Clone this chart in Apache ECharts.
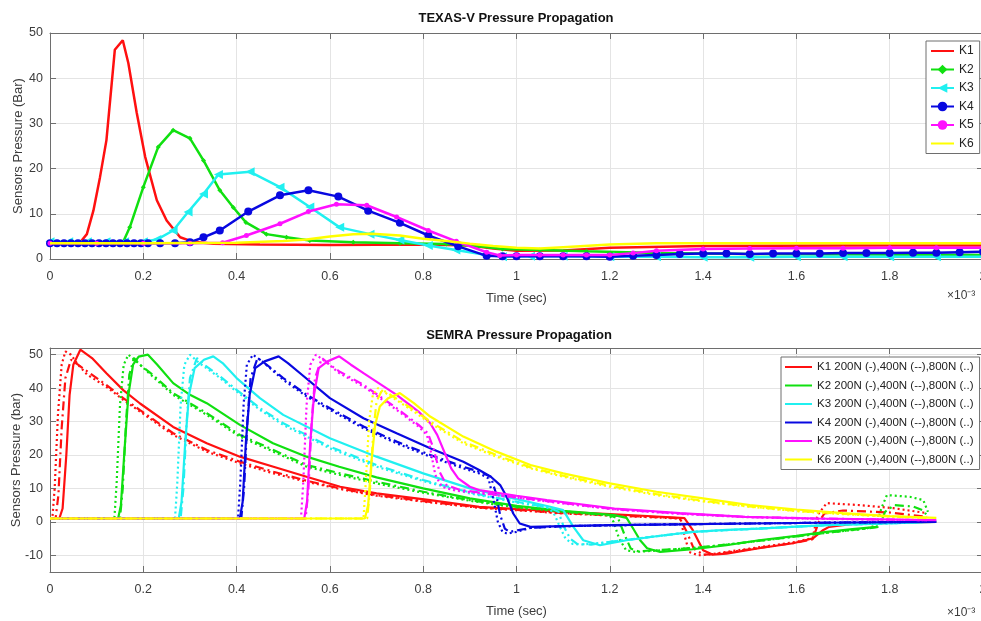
<!DOCTYPE html>
<html>
<head>
<meta charset="utf-8">
<script src="https://cdn.jsdelivr.net/npm/echarts@6/dist/echarts.min.js"></script>
<style>
  html, body { margin: 0; padding: 0; background: #fff; }
  #chart { width: 981px; height: 621px; }
</style>
</head>
<body>
<div id="chart"></div>
<script>
// time in ms (axis shows x10^-3 s), pressure in bar

const SENSORS = ['K1', 'K2', 'K3', 'K4', 'K5', 'K6'];
const SEMRA_NAMES = SENSORS.map(k => k + ' 200N (-),400N (--),800N (..)');

// ---- TEXAS-V ----
const TX_K1 = [[0,3.5],[0.03,3.5],[0.064,3.6],[0.079,5.5],[0.093,10.7],[0.107,18],[0.121,26.3],[0.139,46.3],[0.156,48.4],
  [0.168,43.3],[0.186,32.3],[0.204,22.6],[0.229,13],[0.25,8.5],[0.279,4.8],[0.307,3.8],[0.35,3.4],[0.45,3.2],[0.6,3.1],
  [0.8,3.2],[0.9,3],[0.95,2.3],[1.0,1.8],[1.1,1.9],[1.2,2.5],[1.4,2.9],[1.7,3],[2.0,3]];
const TX_K2 = [[0,3.5],[0.05,3.5],[0.1,3.5],[0.157,3.8],[0.171,7],[0.2,15.9],[0.232,24.8],[0.264,28.5],[0.3,26.7],
  [0.329,21.8],[0.364,15.2],[0.393,11.4],[0.42,8.1],[0.464,5.5],[0.507,4.8],[0.557,4.1],[0.65,3.7],[0.75,3.5],[0.85,3.3],
  [0.92,2.8],[0.97,2.2],[1.05,2],[1.15,1.7],[1.3,1.3],[1.5,1.1],[1.75,1],[2.0,0.9]];
const TX_K3 = [[0,3.8],[0.04,3.8],[0.08,3.8],[0.12,3.8],[0.16,3.8],[0.2,3.8],[0.229,4.3],[0.264,6.3],[0.296,10.4],
  [0.329,14.4],[0.361,18.7],[0.429,19.3],[0.493,15.9],[0.557,11.5],[0.621,7],[0.686,5.5],[0.75,4.2],[0.811,3],[0.87,2],
  [0.93,1],[0.97,0.5],[1.03,0.6],[1.1,0.6],[1.2,0.5],[1.3,0.5],[1.4,0.4],[1.5,0.4],[1.6,0.5],[1.7,0.5],[1.8,0.5],
  [1.9,0.5],[2.0,0.5]];
const TX_K4 = [[0,3.5],[0.015,3.5],[0.03,3.5],[0.045,3.5],[0.06,3.5],[0.075,3.5],[0.09,3.5],[0.105,3.5],[0.12,3.5],
  [0.135,3.5],[0.15,3.5],[0.165,3.5],[0.18,3.5],[0.195,3.5],[0.21,3.5],[0.236,3.5],[0.268,3.5],[0.3,3.7],[0.329,4.8],
  [0.364,6.3],[0.425,10.5],[0.493,14.1],[0.554,15.2],[0.618,13.8],[0.682,10.7],[0.75,8],[0.811,5.2],[0.875,2.8],
  [0.936,0.7],[0.97,0.6],[1.0,0.6],[1.05,0.6],[1.1,0.6],[1.15,0.6],[1.2,0.5],[1.25,0.7],[1.3,0.9],[1.35,1.1],[1.4,1.2],
  [1.45,1.2],[1.5,1.1],[1.55,1.2],[1.6,1.2],[1.65,1.2],[1.7,1.3],[1.75,1.3],[1.8,1.3],[1.85,1.4],[1.9,1.4],[1.95,1.5],
  [2.0,1.6]];
const TX_K5 = [[0,3.5],[0.1,3.5],[0.2,3.5],[0.3,3.5],[0.37,3.6],[0.421,5.2],[0.493,7.8],[0.554,10.5],[0.614,12.1],
  [0.679,11.9],[0.743,9.3],[0.811,6.3],[0.871,3.9],[0.936,1.5],[0.964,0.8],[1.0,0.9],[1.05,0.9],[1.1,0.9],[1.15,0.9],
  [1.2,0.9],[1.25,1.3],[1.3,1.8],[1.4,2.2],[1.5,2.3],[1.6,2.4],[1.7,2.4],[1.8,2.5],[1.9,2.5],[2.0,2.5]];
const TX_K6 = [[0,3.5],[0.2,3.5],[0.4,3.6],[0.5,4],[0.55,4.3],[0.6,5],[0.65,5.5],[0.69,5.6],[0.75,5.2],[0.8,4.5],
  [0.85,4],[0.9,3.4],[0.95,2.9],[1.0,2.5],[1.05,2.3],[1.1,2.6],[1.2,3.2],[1.3,3.5],[1.6,3.5],[2.0,3.5]];

// ---- SEMRA: 200N solid, 400N dash-dot, 800N dotted ----
const SM_K1_200 = [[0,1],[0.02,1],[0.027,4],[0.035,20],[0.042,38],[0.05,47],[0.065,51.5],[0.09,49],[0.1215,44.4],
  [0.157,39.4],[0.193,35.4],[0.264,28.4],[0.336,23.5],[0.407,19.5],[0.479,16.5],[0.55,13.5],[0.622,10.5],[0.7,8.5],
  [0.815,6.5],[0.92,4.5],[1.03,3.6],[1.1,3],[1.2,2.3],[1.3,1.6],[1.36,1.1],[1.378,-2.5],[1.4,-8.5],[1.42,-9.8],
  [1.45,-9.5],[1.52,-7.9],[1.593,-6.4],[1.636,-4.9],[1.657,-2.5],[1.67,-1.5],[1.72,-0.6],[1.8,-0.3],[1.9,0]];
const SM_K1_400 = [[0,1],[0.012,1],[0.018,8],[0.025,28],[0.033,43],[0.045,48.5],[0.06,47],[0.08,45],[0.12,41],
  [0.157,37],[0.193,33.4],[0.264,26.5],[0.336,21.5],[0.407,18],[0.479,15],[0.55,12.3],[0.622,10],[0.7,8],[0.815,6],
  [0.92,4.3],[1.03,3.3],[1.1,2.6],[1.2,2],[1.3,1.4],[1.35,1.1],[1.365,-3],[1.38,-8],[1.4,-9.8],[1.43,-9.6],[1.5,-8.2],
  [1.6,-6.2],[1.635,-5.2],[1.648,0],[1.66,2.5],[1.7,3.4],[1.8,2.8],[1.88,1.5]];
const SM_K1_800 = [[0,1],[0.005,1],[0.01,10],[0.017,32],[0.025,47],[0.033,51],[0.045,50],[0.06,47],[0.08,44],
  [0.12,40.5],[0.157,36.5],[0.193,33],[0.264,26],[0.336,21],[0.407,17.5],[0.479,14.5],[0.55,12],[0.622,9.8],[0.7,7.8],
  [0.815,5.8],[0.92,4.2],[1.03,3.2],[1.1,2.5],[1.2,1.9],[1.3,1.3],[1.35,1],[1.358,-3],[1.37,-9],[1.39,-10],[1.41,-9.8],
  [1.5,-8],[1.6,-6],[1.635,-4.8],[1.645,2],[1.665,5.6],[1.736,5],[1.808,4.1],[1.88,2.6]];

const SM_K2_200 = [[0,1],[0.146,1],[0.152,5],[0.16,22],[0.168,38],[0.178,47],[0.19,49.4],[0.21,50],[0.23,47],
  [0.264,41.5],[0.3,38],[0.336,35.5],[0.407,29],[0.478,23.5],[0.55,19.5],[0.62,16.5],[0.7,13.3],[0.8,10],[0.9,7],
  [1.0,4.8],[1.1,3.3],[1.21,2],[1.236,1.2],[1.25,-2],[1.265,-5.5],[1.28,-7.9],[1.308,-9],[1.378,-8.2],[1.45,-7],
  [1.52,-5.5],[1.6,-4.2],[1.665,-3],[1.72,-2.2],[1.773,-1.5]];
const SM_K2_400 = [[0,1],[0.15,1],[0.156,10],[0.163,30],[0.17,44],[0.18,49],[0.193,47],[0.22,44],[0.264,38.5],
  [0.336,32.5],[0.407,26],[0.479,21.5],[0.55,17],[0.622,14.5],[0.7,12],[0.8,9],[0.9,6.5],[1.0,4.5],[1.1,3.1],[1.2,2],
  [1.218,1],[1.232,-4],[1.245,-8],[1.26,-8.8],[1.3,-8.5],[1.38,-7.8],[1.45,-6.8],[1.55,-5.2],[1.65,-3.5],[1.75,-2],
  [1.778,-1.5],[1.79,3],[1.81,5],[1.85,4.6],[1.87,3.5],[1.88,2]];
const SM_K2_800 = [[0,1],[0.138,1],[0.143,12],[0.15,35],[0.158,47],[0.168,50],[0.185,48],[0.22,43.5],[0.264,38],
  [0.336,32],[0.407,25.5],[0.479,21],[0.55,16.5],[0.622,14],[0.7,11.5],[0.8,8.7],[0.9,6.3],[1.0,4.3],[1.1,3],[1.2,1.9],
  [1.208,0],[1.22,-5],[1.235,-8.5],[1.255,-9],[1.3,-8.6],[1.38,-7.8],[1.45,-6.8],[1.55,-5.2],[1.65,-3.5],[1.75,-2],
  [1.772,-1],[1.782,4],[1.794,8],[1.843,7.5],[1.872,6.5],[1.882,3]];

const SM_K3_200 = [[0,1],[0.276,1],[0.282,6],[0.29,24],[0.298,38],[0.31,46],[0.33,48.5],[0.35,49.5],[0.37,47.5],
  [0.4,43],[0.45,37],[0.5,32],[0.6,25],[0.7,19.5],[0.8,14.5],[0.9,10],[1.0,6.8],[1.07,4.6],[1.1,3.5],[1.122,-1.5],
  [1.143,-5.5],[1.179,-7],[1.236,-5.5],[1.3,-4.3],[1.378,-3],[1.45,-2.4],[1.52,-2],[1.6,-1.4],[1.665,-1],[1.81,-0.4],
  [1.9,0]];
const SM_K3_400 = [[0,1],[0.28,1],[0.286,10],[0.293,30],[0.3,43],[0.315,49],[0.33,47],[0.36,44],[0.4,39.5],[0.45,34],
  [0.5,29.5],[0.6,22.5],[0.7,17],[0.8,12.5],[0.9,8.8],[1.0,6],[1.07,4.3],[1.09,3],[1.1,-1],[1.115,-5],[1.13,-6.6],
  [1.16,-6.8],[1.2,-6],[1.236,-5.4],[1.3,-4.3],[1.378,-3],[1.52,-2],[1.665,-1],[1.81,-0.4],[1.88,0]];
const SM_K3_800 = [[0,1],[0.268,1],[0.273,12],[0.28,35],[0.288,47],[0.3,50],[0.32,47.5],[0.36,43.5],[0.4,39],
  [0.45,33.5],[0.5,29],[0.6,22],[0.7,16.5],[0.8,12.2],[0.9,8.5],[1.0,5.8],[1.07,4.1],[1.082,2],[1.093,-1.5],[1.105,-5],
  [1.12,-6.6],[1.136,-6.8],[1.18,-6.3],[1.236,-5.4],[1.3,-4.3],[1.378,-3],[1.52,-2],[1.665,-1],[1.81,-0.4],[1.88,0]];

const SM_K4_200 = [[0,1],[0.407,1],[0.413,6],[0.42,24],[0.428,38],[0.44,46],[0.46,48],[0.49,49.5],[0.51,47.5],
  [0.54,44],[0.6,37],[0.672,31],[0.743,26.5],[0.815,22],[0.886,18],[0.92,15.5],[0.945,13.5],[0.965,11],[0.979,7.5],
  [0.993,2.5],[1.007,-0.5],[1.03,-1.5],[1.1,-1.3],[1.2,-1],[1.3,-0.8],[1.5,-0.5],[1.7,-0.2],[1.9,0]];
const SM_K4_400 = [[0,1],[0.41,1],[0.416,10],[0.423,30],[0.43,43],[0.445,49],[0.46,47.5],[0.5,43],[0.55,38],[0.6,34],
  [0.672,28.5],[0.743,24],[0.815,20],[0.886,16.5],[0.92,15],[0.945,13.5],[0.955,9],[0.965,2],[0.975,-2],[0.985,-3],
  [1.0,-2.6],[1.03,-1.8],[1.1,-1.3],[1.3,-0.8],[1.5,-0.5],[1.7,-0.2],[1.88,0]];
const SM_K4_800 = [[0,1],[0.403,1],[0.408,12],[0.415,35],[0.422,47],[0.435,50],[0.455,48],[0.5,42.5],[0.55,37.5],
  [0.6,33.5],[0.672,28],[0.743,23.5],[0.815,19.5],[0.886,16],[0.92,14.5],[0.94,13],[0.95,7],[0.96,0],[0.97,-3],
  [0.98,-3.5],[1.0,-3],[1.03,-1.8],[1.1,-1.3],[1.3,-0.8],[1.5,-0.5],[1.7,-0.2],[1.88,0]];

const SM_K5_200 = [[0,1],[0.545,1],[0.551,6],[0.558,24],[0.566,38],[0.576,46],[0.595,48],[0.62,49.5],[0.645,47],
  [0.672,44.5],[0.743,38],[0.79,33],[0.815,29.5],[0.83,26],[0.845,21],[0.86,16],[0.875,13],[0.9,10.5],[0.92,9.5],
  [1.0,7.8],[1.065,6.5],[1.21,4],[1.35,2.6],[1.49,1.5],[1.64,1],[1.9,0.5]];
const SM_K5_400 = [[0,1],[0.548,1],[0.554,10],[0.561,30],[0.568,43],[0.583,49],[0.6,47],[0.62,45],[0.672,41],
  [0.743,34],[0.79,29],[0.81,26.5],[0.822,22],[0.835,15],[0.85,11],[0.88,9.5],[0.92,8.8],[1.0,7.3],[1.1,5.6],[1.21,3.8],
  [1.35,2.5],[1.49,1.5],[1.64,1],[1.88,0.5]];
const SM_K5_800 = [[0,1],[0.538,1],[0.543,12],[0.55,35],[0.558,47],[0.57,50],[0.59,48],[0.62,44.5],[0.672,40.5],
  [0.743,33.5],[0.79,28.5],[0.808,26],[0.815,22],[0.826,14],[0.84,10.5],[0.87,9.3],[0.92,8.6],[1.0,7.2],[1.1,5.5],
  [1.21,3.7],[1.35,2.4],[1.49,1.4],[1.64,0.9],[1.88,0.5]];

const SM_K6_200 = [[0,1],[0.675,1],[0.682,5],[0.689,18],[0.697,29],[0.707,34.5],[0.725,37],[0.75,38.5],[0.78,35.5],
  [0.815,31.5],[0.886,25.5],[0.957,21],[1.03,17],[1.1,14.5],[1.2,11.5],[1.3,9],[1.4,7],[1.5,5],[1.6,3.7],[1.7,2.6],
  [1.8,1.7],[1.9,1.2]];
const SM_K6_400 = [[0,1],[0.68,1],[0.686,10],[0.693,27],[0.7,36],[0.712,39.5],[0.73,38],[0.78,33.5],[0.815,30],
  [0.886,24],[0.957,20],[1.03,16.3],[1.1,13.8],[1.2,10.8],[1.3,8.3],[1.4,6.3],[1.5,4.6],[1.6,3.3],[1.7,2.4],[1.8,1.6],
  [1.88,1.2]];
const SM_K6_800 = [[0,1],[0.672,1],[0.677,12],[0.684,30],[0.692,38],[0.703,40],[0.72,38.5],[0.78,33],[0.815,29.5],
  [0.886,23.5],[0.957,19.5],[1.03,16],[1.1,13.5],[1.2,10.5],[1.3,8],[1.4,6.1],[1.5,4.5],[1.6,3.2],[1.7,2.3],[1.8,1.6],
  [1.88,1.2]];

const TEXAS = [TX_K1, TX_K2, TX_K3, TX_K4, TX_K5, TX_K6];
const SEMRA = [
  [SM_K1_200, SM_K1_400, SM_K1_800],
  [SM_K2_200, SM_K2_400, SM_K2_800],
  [SM_K3_200, SM_K3_400, SM_K3_800],
  [SM_K4_200, SM_K4_400, SM_K4_800],
  [SM_K5_200, SM_K5_400, SM_K5_800],
  [SM_K6_200, SM_K6_400, SM_K6_800]
];

const colors = ['#ff1010', '#10e010', '#20f0f0', '#0808e0', '#ff10ff', '#ffff00'];
// marker per TEXAS-V sensor
const texasMarks = [
  { symbol: 'none' },
  { symbol: 'diamond', size: 5 },
  { symbol: 'triangle', size: 9, rotate: 90 },
  { symbol: 'circle', size: 8 },
  { symbol: 'circle', size: 5 },
  { symbol: 'none' }
];
const dashTypes = ['solid', [9, 4, 2, 4], [2, 3]];

const font = 'Liberation Sans';
const axisColor = '#6e6e6e';
const labelColor = '#3c3c3c';
const gridColor = '#e4e4e4';

function mainX(gridIndex, gap) {
  return {
    type: 'value', gridIndex, min: 0, max: 2, interval: 0.2,
    name: 'Time (sec)', nameLocation: 'middle', nameGap: gap, nameMoveOverlap: false,
    nameTextStyle: { fontSize: 13, color: labelColor, fontFamily: font },
    axisLine: { show: true, onZero: false, lineStyle: { color: axisColor, width: 1 } },
    axisTick: { inside: true, length: 6, lineStyle: { color: axisColor } },
    axisLabel: { fontSize: 12.5, color: labelColor, fontFamily: font, margin: 11 },
    splitLine: { show: true, lineStyle: { color: gridColor } }
  };
}
function frameX(gridIndex) {
  return {
    type: 'value', gridIndex, position: 'top', min: 0, max: 2, interval: 0.2,
    axisLine: { show: true, onZero: false, lineStyle: { color: axisColor, width: 1 } },
    axisTick: { inside: true, length: 6, lineStyle: { color: axisColor } },
    axisLabel: { show: false }, splitLine: { show: false }
  };
}
function frameY(gridIndex, min, max, interval) {
  const ax = {
    type: 'value', gridIndex, position: 'right', min, max,
    axisLine: { show: true, onZero: false, lineStyle: { color: axisColor, width: 1 } },
    axisTick: { show: true, inside: true, length: 6, lineStyle: { color: axisColor } },
    axisLabel: { show: false }, splitLine: { show: false }
  };
  if (interval) ax.interval = interval;
  return ax;
}

// legend items for series drawn without markers: hide the default legend circle
const hideMark = { opacity: 0 };

const option = {
  animation: false,
  backgroundColor: '#ffffff',
  grid: [
    { left: 50, top: 33, width: 933, height: 226, outerBoundsMode: 'none', containLabel: false },
    { left: 50, top: 348, width: 933, height: 224, outerBoundsMode: 'none', containLabel: false }
  ],
  xAxis: [mainX(0, 33), frameX(0), mainX(1, 33), frameX(1)],
  yAxis: [
    {
      type: 'value', gridIndex: 0, min: 0, max: 50, interval: 10,
      name: 'Sensors Pressure (Bar)', nameLocation: 'middle', nameGap: 25, nameMoveOverlap: false,
      nameTextStyle: { fontSize: 13, color: labelColor, fontFamily: font },
      axisLine: { show: true, onZero: false, lineStyle: { color: axisColor, width: 1 } },
      axisTick: { show: true, inside: true, length: 6, lineStyle: { color: axisColor } },
      axisLabel: { fontSize: 12.5, color: labelColor, fontFamily: font, margin: 7 },
      splitLine: { show: true, lineStyle: { color: gridColor } }
    },
    frameY(0, 0, 50, 10),
    {
      type: 'value', gridIndex: 1, min: -15, max: 52,
      name: 'Sensors Pressure (bar)', nameLocation: 'middle', nameGap: 27, nameMoveOverlap: false,
      nameTextStyle: { fontSize: 13, color: labelColor, fontFamily: font },
      axisLine: { show: true, onZero: false, lineStyle: { color: axisColor, width: 1 } },
      axisTick: { show: true, inside: true, length: 6, lineStyle: { color: axisColor } },
      axisLabel: {
        fontSize: 12.5, color: labelColor, fontFamily: font, margin: 7,
        formatter: v => (v % 10 === 0 ? String(v) : '')
      },
      splitLine: { show: true, lineStyle: { color: gridColor } }
    },
    frameY(1, -15, 52)
  ],
  legend: [
    {
      data: SENSORS.map((name, i) => texasMarks[i].symbol === 'none' ? { name, itemStyle: hideMark } : { name }),
      orient: 'vertical', left: 926, top: 41,
      itemWidth: 23, itemHeight: 12, itemGap: 6.5,
      padding: [4, 6, 4, 4], borderColor: '#6e6e6e', borderWidth: 1, backgroundColor: '#fff',
      textStyle: { fontSize: 12, color: '#222', fontFamily: font }
    },
    {
      data: SEMRA_NAMES.map(name => ({ name, itemStyle: hideMark })),
      orient: 'vertical', left: 781, top: 357,
      itemWidth: 27, itemHeight: 12, itemGap: 6.5,
      padding: [4, 6, 4, 3], borderColor: '#6e6e6e', borderWidth: 1, backgroundColor: '#fff',
      textStyle: { fontSize: 11.5, color: '#222', fontFamily: font }
    }
  ],
  graphic: [
    { type: 'text', style: { text: 'TEXAS-V Pressure Propagation', x: 516, y: 18, textAlign: 'center', textVerticalAlign: 'middle', font: 'bold 13px "Liberation Sans"', fill: '#111' } },
    { type: 'text', style: { text: 'SEMRA Pressure Propagation', x: 519, y: 335, textAlign: 'center', textVerticalAlign: 'middle', font: 'bold 13px "Liberation Sans"', fill: '#111' } },
    { type: 'text', style: { text: '×10⁻³', x: 947, y: 296, textVerticalAlign: 'middle', font: '12px "Liberation Sans"', fill: labelColor } },
    { type: 'text', style: { text: '×10⁻³', x: 947, y: 613, textVerticalAlign: 'middle', font: '12px "Liberation Sans"', fill: labelColor } }
  ],
  series: []
};

TEXAS.forEach((data, i) => {
  const m = texasMarks[i];
  option.series.push({
    name: SENSORS[i], type: 'line', xAxisIndex: 0, yAxisIndex: 0, data,
    symbol: m.symbol, symbolSize: m.size || 0, symbolRotate: m.rotate || 0,
    showSymbol: m.symbol !== 'none',
    lineStyle: { color: colors[i], width: 2.5 },
    itemStyle: { color: colors[i] },
    z: 2 + i
  });
});

SEMRA.forEach((runs, i) => {
  runs.forEach((data, j) => {
    option.series.push({
      name: j === 0 ? SEMRA_NAMES[i] : SENSORS[i] + (j === 1 ? ' 400N' : ' 800N'),
      type: 'line', xAxisIndex: 2, yAxisIndex: 2, data,
      symbol: 'none', showSymbol: false,
      lineStyle: { color: colors[i], width: 2.2, type: dashTypes[j] },
      itemStyle: { color: colors[i] },
      z: 2 + i
    });
  });
});

const chart = echarts.init(document.getElementById('chart'), null, { renderer: 'canvas' });
chart.setOption(option);
</script>
</body>
</html>
